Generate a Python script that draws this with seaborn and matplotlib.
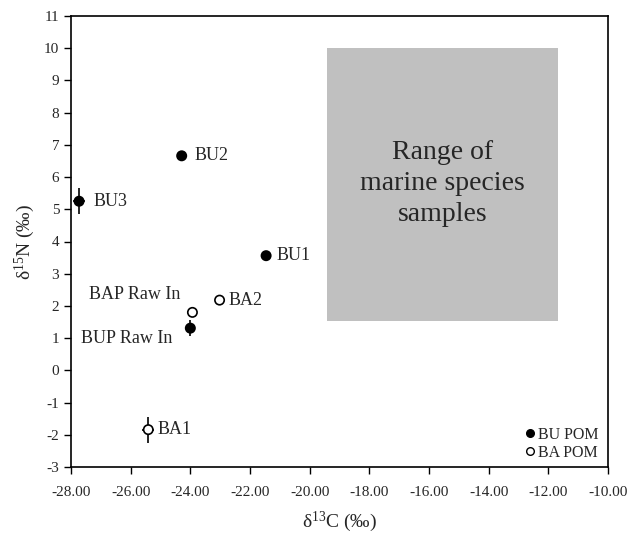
import matplotlib
matplotlib.use("Agg")
import matplotlib.pyplot as plt
import seaborn as sns
import pandas as pd
from matplotlib.patches import Rectangle
from matplotlib.lines import Line2D

sns.set_theme(style="ticks")
plt.rcParams["font.family"] = ["Liberation Serif", "DejaVu Serif"]
plt.rcParams["mathtext.fontset"] = "custom"
plt.rcParams["mathtext.rm"] = "Liberation Serif"
plt.rcParams["mathtext.it"] = "Liberation Serif:italic"

# Data
labels = ["BU1", "BU2", "BU3", "BUP Raw In", "BA1", "BA2", "BAP Raw In"]
groups = ["BU POM", "BU POM", "BU POM", "BU POM", "BA POM", "BA POM", "BA POM"]
d13C = [-21.46, -24.29, -27.73, -24.0, -25.41, -23.02, -23.93]
d15N = [3.56, 6.66, 5.25, 1.31, -1.84, 2.18, 1.80]
err_C = [0.15, 0.0, 0.2, 0.0, 0.2, 0.1, 0.0]
err_N = [0.1, 0.0, 0.4, 0.25, 0.4, 0.12, 0.0]
x_ticks = [-28, -26, -24, -22, -20, -18, -16, -14, -12, -10]
y_ticks = list(range(-3, 12))
range_x = [-19.41, -11.69]
range_y = [1.53, 10.0]

# label offsets in pixels (dx, dy, ha)
offsets = {
    "BU1": (10, 0, "left"), "BU2": (13, 0, "left"), "BU3": (14, 0, "left"),
    "BUP Raw In": (-18, -10, "right"), "BA1": (9, 0, "left"),
    "BA2": (9, 0, "left"), "BAP Raw In": (-12, 18, "right"),
}

df = pd.DataFrame({"label": labels, "group": groups, "C": d13C, "N": d15N,
                   "eC": err_C, "eN": err_N})

fig = plt.figure(figsize=(6.31, 5.35), dpi=100)
ax = fig.add_axes([71 / 631, 1 - 467 / 535, 537 / 631, 451 / 535])

ax.add_patch(Rectangle((range_x[0], range_y[0]), range_x[1] - range_x[0],
                       range_y[1] - range_y[0], facecolor="#c0c0c0",
                       edgecolor="none", zorder=1))
ax.text((range_x[0] + range_x[1]) / 2, 5.8, "Range of\nmarine species\nsamples",
        ha="center", va="center", fontsize=20, linespacing=1.3, zorder=2)

ax.errorbar(df["C"], df["N"], xerr=df["eC"], yerr=df["eN"], fmt="none",
            ecolor="black", elinewidth=1.2, capsize=0, zorder=3)

sns.scatterplot(data=df, x="C", y="N", hue="group", style="group",
                hue_order=["BU POM", "BA POM"],
                palette={"BU POM": "black", "BA POM": "white"},
                markers={"BU POM": "o", "BA POM": "o"},
                edgecolor="black", linewidth=1.2, s=45, zorder=4, ax=ax,
                legend=False)

for _, r in df.iterrows():
    dx, dy, ha = offsets[r["label"]]
    ax.annotate(r["label"], (r["C"], r["N"]), xytext=(dx, dy),
                textcoords="offset pixels", ha=ha, va="center", fontsize=13)

# legend
handles = [Line2D([], [], marker="o", ls="none", mfc="black", mec="black", ms=5.5),
           Line2D([], [], marker="o", ls="none", mfc="white", mec="black", ms=5.5)]
ax.legend(handles, ["BU POM", "BA POM"], loc="lower right", frameon=False,
          fontsize=11.5, handletextpad=0.0, borderaxespad=0.0, labelspacing=0.1,
          handlelength=1.0, bbox_to_anchor=(0.995, 0.0))

ax.set_xlim(-28, -10)
ax.set_ylim(-3, 11)
ax.set_xticks(x_ticks)
ax.set_xticklabels([f"{v:.2f}" for v in x_ticks])
ax.set_yticks(y_ticks)
ax.set_yticklabels([str(v) for v in y_ticks])
ax.tick_params(direction="out", length=5, width=1, labelsize=11, color="black")
ax.tick_params(axis="x", pad=8.5)
for s in ax.spines.values():
    s.set_visible(True)
    s.set_color("black")
    s.set_linewidth(1.2)
ax.set_xlabel("δ$^{13}$C (‰)", fontsize=14, labelpad=8)
ax.set_ylabel("δ$^{15}$N (‰)", fontsize=14, labelpad=5)

fig.savefig("out.png", dpi=100)
